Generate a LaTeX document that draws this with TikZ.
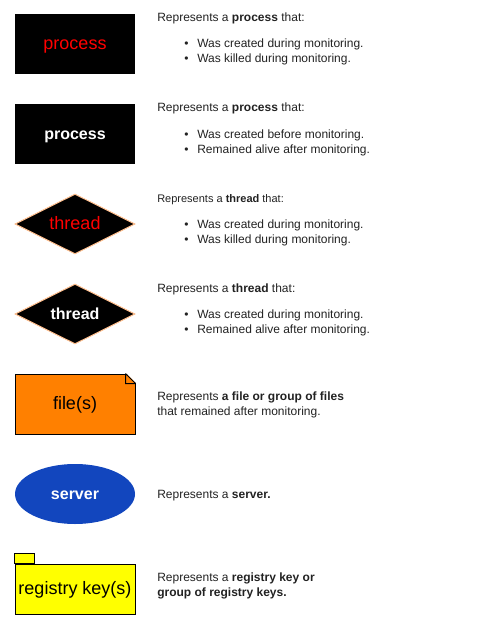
\documentclass[tikz,border=0pt]{standalone}
\usepackage{fontspec}
\setmainfont{Liberation Sans}
\usepackage{tikz}
\usetikzlibrary{shapes.geometric,positioning}
\definecolor{fileorange}{RGB}{255,128,0}
\definecolor{serverblue}{RGB}{18,70,190}
\definecolor{threadedge}{RGB}{255,190,140}
\definecolor{keyyellow}{RGB}{255,255,0}
\definecolor{txtgray}{RGB}{34,34,34}
\newcommand{\bul}[1]{\hspace{20.25pt}\makebox[9.75pt][l]{\textbullet}#1}
\tikzset{
  every node/.style={font=\fontsize{9}{11}\selectfont, text=txtgray},
}

\begin{document}
\begin{tikzpicture}[
  x=0.75pt,y=-0.75pt,
  box/.style={rectangle, minimum width=90pt, minimum height=45pt, inner sep=0pt},
  proc/.style={box, fill=black},
  thr/.style={diamond, aspect=2, minimum width=90pt, minimum height=45pt, inner sep=0pt,
    fill=black, draw=threadedge, line width=0.75pt},
  label/.style={text height=10pt, text depth=2pt},
  dead/.style={label, text=red, font=\fontsize{13.5}{16}\selectfont},
  alive/.style={label, text=white, font=\fontsize{12}{14}\selectfont\bfseries},
  plain/.style={label, text=black, font=\fontsize{13.5}{16}\selectfont},
  desc/.style={anchor=base west, inner sep=0pt}
]
\useasboundingbox (0,0) rectangle (487,624);

% shapes
\node[proc, dead] (proc1) at (75,44) {process};
\node[proc, alive] (proc2) at (75,134) {process};
\node[thr, dead] (thr1) at (75,224) {thread};
\node[thr, alive] (thr2) at (75,314) {thread};
\node[box, plain, fill=fileorange, draw=black, line width=0.75pt] (file) at (75,404) {file(s)};
\fill[white] ([xshift=-7.5pt,yshift=0.6pt]file.north east) -- ([xshift=0.6pt,yshift=0.6pt]file.north east)
  -- ([xshift=0.6pt,yshift=-7.5pt]file.north east) -- cycle;
\draw[line width=0.75pt] ([xshift=-7.5pt]file.north east) -- ([yshift=-7.5pt]file.north east)
  ([xshift=-7.5pt]file.north east) -- ([xshift=-7.5pt,yshift=-7.5pt]file.north east)
  -- ([yshift=-7.5pt]file.north east);
\node[ellipse, minimum width=90pt, minimum height=45pt, inner sep=0pt, fill=serverblue, alive] (server) at (75,494) {server};
\node[box, plain, minimum height=37.5pt, fill=keyyellow, draw=black, line width=0.75pt] (regkey) at (75,589) {registry key(s)};
\filldraw[fill=keyyellow, draw=black, line width=0.75pt] (regkey.north west) rectangle ++(20,-10);

% descriptions
\node[desc] (proc1h) at (157,22) {Represents a \textbf{process} that:};
\node[desc] (proc1a) at (157,48) {\bul{Was created during monitoring.}};
\node[desc] (proc1b) at (157,63) {\bul{Was killed during monitoring.}};

\node[desc] (proc2h) at (157,112) {Represents a \textbf{process} that:};
\node[desc] (proc2a) at (157,138) {\bul{Was created before monitoring.}};
\node[desc] (proc2b) at (157,153) {\bul{Remained alive after monitoring.}};

\node[desc, font=\fontsize{8.25}{10}\selectfont] (thr1h) at (157,202) {Represents a \textbf{thread} that:};
\node[desc] (thr1a) at (157,228) {\bul{Was created during monitoring.}};
\node[desc] (thr1b) at (157,243) {\bul{Was killed during monitoring.}};

\node[desc] (thr2h) at (157,292) {Represents a \textbf{thread} that:};
\node[desc] (thr2a) at (157,318) {\bul{Was created during monitoring.}};
\node[desc] (thr2b) at (157,333) {\bul{Remained alive after monitoring.}};

\node[desc] (fileh) at (157,400) {Represents \textbf{a file or group of files}};
\node[desc] (filea) at (157,415) {that remained after monitoring.};

\node[desc] (serverh) at (157,498) {Represents a \textbf{server.}};

\node[desc] (regkeyh) at (157,581) {Represents a \textbf{registry key or}};
\node[desc] (regkeya) at (157,596) {\textbf{group of registry keys.}};
\end{tikzpicture}
\end{document}
